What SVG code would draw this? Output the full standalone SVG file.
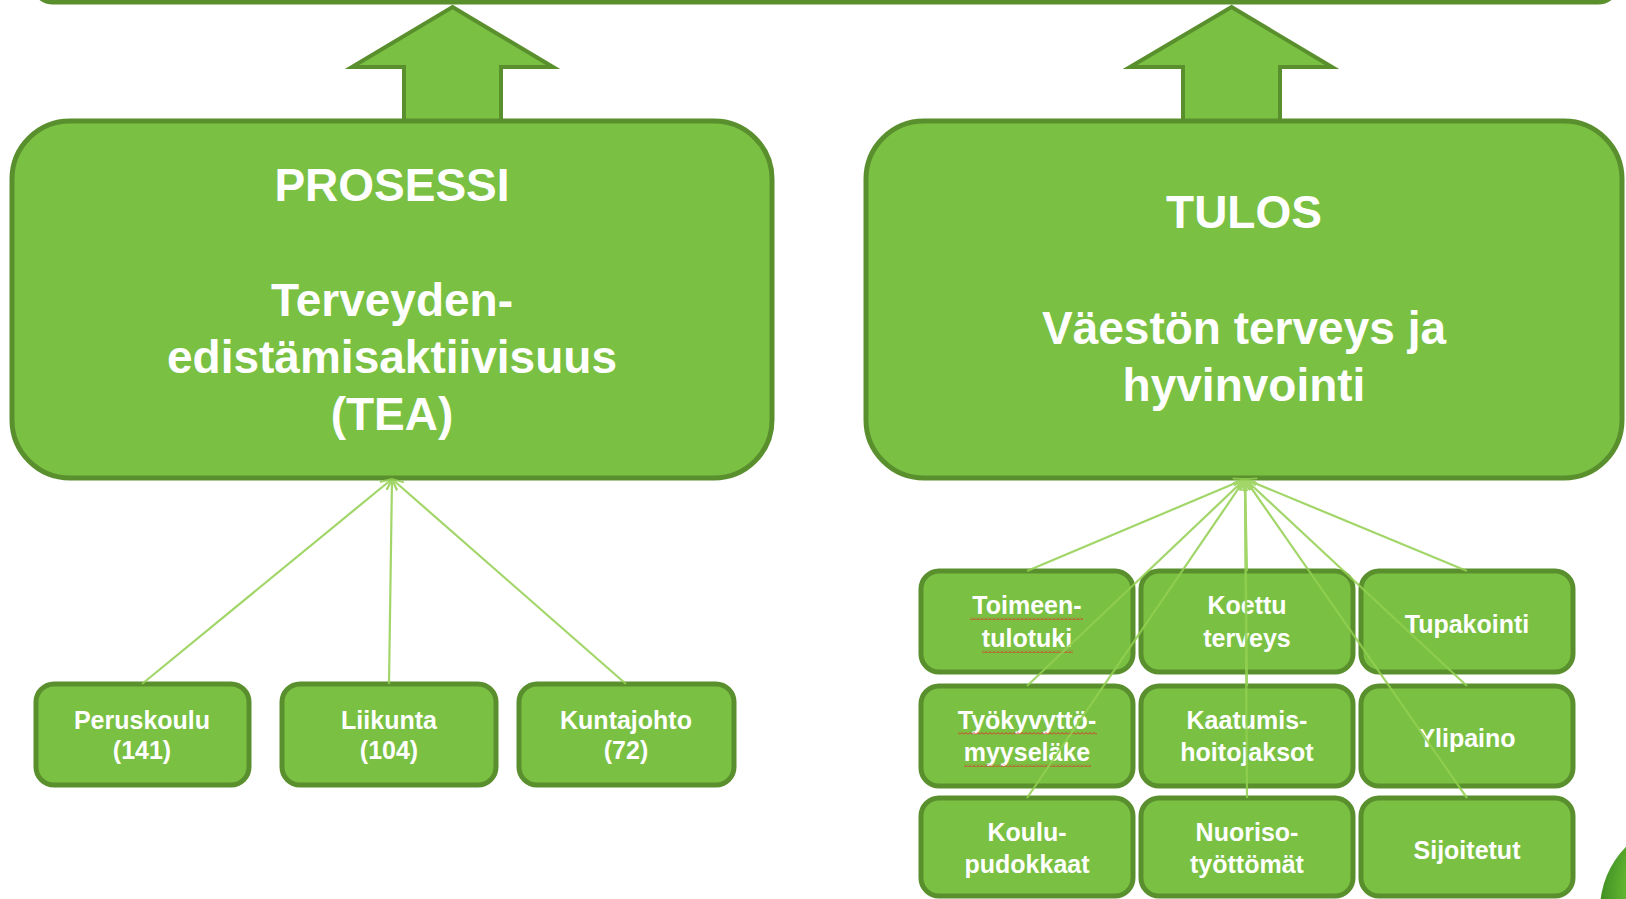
<svg xmlns="http://www.w3.org/2000/svg" width="1626" height="899" viewBox="0 0 1626 899">
<defs>
<style>
.big{fill:#7ac143;stroke:#5a8f2e;stroke-width:5}
.box{fill:#7ac143;stroke:#5a8f2e;stroke-width:5}
.arr{fill:#7ac143;stroke:#5a8f2e;stroke-width:4;stroke-linejoin:miter}
.t1{font-family:"Liberation Sans",Arial,sans-serif;font-weight:bold;font-size:46px;fill:#ffffff;text-anchor:middle}
.t2{font-family:"Liberation Sans",Arial,sans-serif;font-weight:bold;font-size:25px;fill:#ffffff;text-anchor:middle}
.con{stroke:#92d050;stroke-width:2.2;fill:none;opacity:0.85}
</style>
<marker id="ah" viewBox="0 0 10 10" refX="9.5" refY="5" markerWidth="12" markerHeight="12" markerUnits="userSpaceOnUse" orient="auto">
<path d="M0,0.5 L9.5,5 L0,9.5" fill="none" stroke="#92d050" stroke-width="1.6"/>
</marker>
<pattern id="wavy" width="4" height="3" patternUnits="userSpaceOnUse">
<path d="M0,2.5 L2,0.5 L4,2.5" fill="none" stroke="#e0302a" stroke-width="1"/>
</pattern>
<radialGradient id="ball" cx="0.6" cy="0.4" r="0.6">
<stop offset="0" stop-color="#9ee05c"/>
<stop offset="0.7" stop-color="#6cbf34"/>
<stop offset="1" stop-color="#3f8f24"/>
</radialGradient>
</defs>
<rect x="0" y="0" width="1626" height="899" fill="#ffffff"/>

<g id="top-bar">
<rect x="33" y="-80" width="1585" height="82" rx="20" class="big"/>
</g>

<g id="arrow-left">
<polygon class="arr" points="452.5,7 553,67 501,67 501,121 404,121 404,67 352,67"/>
</g>
<g id="arrow-right">
<polygon class="arr" points="1231.5,7 1332,67 1280,67 1280,121 1183,121 1183,67 1130,67"/>
</g>

<g id="prosessi">
<rect x="12" y="121" width="760" height="357" rx="58" class="big"/>
<text class="t1" x="392" y="201">PROSESSI</text>
<text class="t1" x="392" y="316">Terveyden-</text>
<text class="t1" x="392" y="373">edistämisaktiivisuus</text>
<text class="t1" x="392" y="430">(TEA)</text>
</g>

<g id="tulos">
<rect x="866" y="121" width="756" height="357" rx="58" class="big"/>
<text class="t1" x="1244" y="228">TULOS</text>
<text class="t1" x="1244" y="344">Väestön terveys ja</text>
<text class="t1" x="1244" y="401">hyvinvointi</text>
</g>

<g id="peruskoulu">
<rect x="36" y="684" width="213" height="101" rx="18" class="box"/>
<text class="t2" x="142" y="729">Peruskoulu</text>
<text class="t2" x="142" y="759">(141)</text>
</g>
<g id="liikunta">
<rect x="282" y="684" width="214" height="101" rx="18" class="box"/>
<text class="t2" x="389" y="729">Liikunta</text>
<text class="t2" x="389" y="759">(104)</text>
</g>
<g id="kuntajohto">
<rect x="519" y="684" width="215" height="101" rx="18" class="box"/>
<text class="t2" x="626" y="729">Kuntajohto</text>
<text class="t2" x="626" y="759">(72)</text>
</g>

<g id="toimeentulotuki">
<rect x="921" y="571" width="212" height="101" rx="18" class="box"/>
<text class="t2" x="1027" y="614">Toimeen-</text>
<text class="t2" x="1027" y="647">tulotuki</text>
<rect x="970" y="617" width="113" height="3" fill="url(#wavy)"/>
<rect x="982" y="650" width="91" height="3" fill="url(#wavy)"/>
</g>
<g id="koettu-terveys">
<rect x="1141" y="571" width="212" height="101" rx="18" class="box"/>
<text class="t2" x="1247" y="614">Koettu</text>
<text class="t2" x="1247" y="647">terveys</text>
</g>
<g id="tupakointi">
<rect x="1361" y="571" width="212" height="101" rx="18" class="box"/>
<text class="t2" x="1467" y="633">Tupakointi</text>
</g>

<g id="tyokyvyttomyyselake">
<rect x="921" y="686" width="212" height="100" rx="18" class="box"/>
<text class="t2" x="1027" y="729">Työkyvyttö-</text>
<text class="t2" x="1027" y="761">myyseläke</text>
<rect x="958" y="732" width="139" height="3" fill="url(#wavy)"/>
<rect x="964" y="764" width="127" height="3" fill="url(#wavy)"/>
</g>
<g id="kaatumishoitojaksot">
<rect x="1141" y="686" width="212" height="100" rx="18" class="box"/>
<text class="t2" x="1247" y="729">Kaatumis-</text>
<text class="t2" x="1247" y="761">hoitojaksot</text>
</g>
<g id="ylipaino">
<rect x="1361" y="686" width="212" height="100" rx="18" class="box"/>
<text class="t2" x="1467" y="747">Ylipaino</text>
</g>

<g id="koulupudokkaat">
<rect x="921" y="798" width="212" height="98" rx="18" class="box"/>
<text class="t2" x="1027" y="841">Koulu-</text>
<text class="t2" x="1027" y="873">pudokkaat</text>
</g>
<g id="nuorisotyottomat">
<rect x="1141" y="798" width="212" height="98" rx="18" class="box"/>
<text class="t2" x="1247" y="841">Nuoriso-</text>
<text class="t2" x="1247" y="873">työttömät</text>
</g>
<g id="sijoitetut">
<rect x="1361" y="798" width="212" height="98" rx="18" class="box"/>
<text class="t2" x="1467" y="859">Sijoitetut</text>
</g>

<g id="corner-ball">
<circle cx="1690" cy="910" r="90" fill="url(#ball)"/>
</g>

<g id="connectors" class="con">
<line x1="142" y1="684" x2="392" y2="479" marker-end="url(#ah)"/>
<line x1="389" y1="684" x2="392" y2="479" marker-end="url(#ah)"/>
<line x1="626" y1="684" x2="392" y2="479" marker-end="url(#ah)"/>
<line x1="1027" y1="571" x2="1245" y2="479" marker-end="url(#ah)"/>
<line x1="1027" y1="686" x2="1245" y2="479" marker-end="url(#ah)"/>
<line x1="1027" y1="798" x2="1245" y2="479" marker-end="url(#ah)"/>
<line x1="1247" y1="571" x2="1245" y2="479" marker-end="url(#ah)"/>
<line x1="1247" y1="686" x2="1245" y2="479" marker-end="url(#ah)"/>
<line x1="1247" y1="798" x2="1245" y2="479" marker-end="url(#ah)"/>
<line x1="1467" y1="571" x2="1245" y2="479" marker-end="url(#ah)"/>
<line x1="1467" y1="686" x2="1245" y2="479" marker-end="url(#ah)"/>
<line x1="1467" y1="798" x2="1245" y2="479" marker-end="url(#ah)"/>
</g>
</svg>
